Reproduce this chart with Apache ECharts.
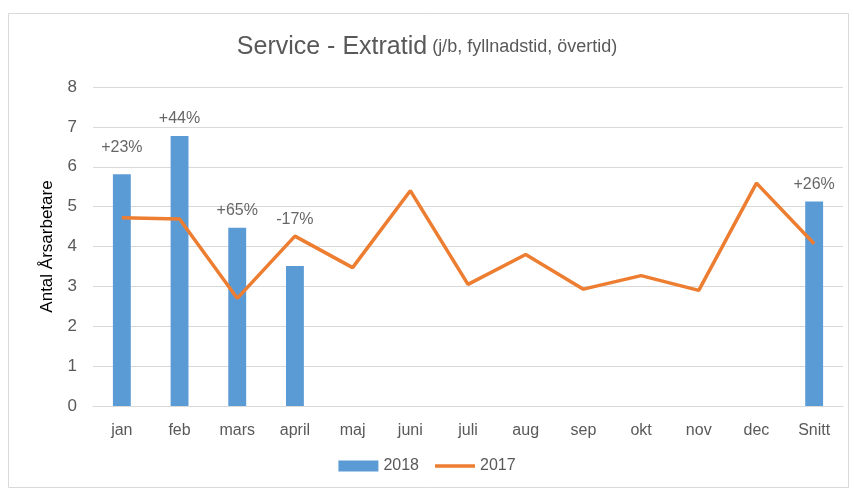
<!DOCTYPE html>
<html>
<head>
<meta charset="utf-8">
<script src="https://cdn.jsdelivr.net/npm/echarts@6/dist/echarts.min.js"></script>
<style>
  html, body { margin: 0; padding: 0; background: #fff; }
  #chart { width: 854px; height: 495px; }
</style>
</head>
<body>
<div id="chart"></div>
<script>
// data
var months = ['jan', 'feb', 'mars', 'april', 'maj', 'juni', 'juli', 'aug', 'sep', 'okt', 'nov', 'dec', 'Snitt'];
var values2018 = [5.81, 6.77, 4.47, 3.51, null, null, null, null, null, null, null, null, 5.13];
var values2017 = [4.72, 4.69, 2.70, 4.26, 3.47, 5.40, 3.05, 3.80, 2.93, 3.27, 2.90, 5.59, 4.07];
var changeLabels = ['+23%', '+44%', '+65%', '-17%', '', '', '', '', '', '', '', '', '+26%'];
var yTicks = [0, 1, 2, 3, 4, 5, 6, 7, 8];

var font = '"Liberation Sans", "Noto Sans", sans-serif';
var grey = '#595959';

// label anchor sits on whichever mark is higher
var labelData = months.map(function (m, i) {
  if (!changeLabels[i]) return [i, null];
  var top = Math.max(values2018[i] || 0, values2017[i] || 0);
  var item = { value: [i, top] };
  if (i === 0) item.label = { offset: [0, -10] };
  return item;
});

var chart = echarts.init(document.getElementById('chart'));
chart.setOption({
  animation: false,
  textStyle: { fontFamily: font },
  graphic: [
    {
      type: 'rect',
      shape: { x: 8.5, y: 13.5, width: 840, height: 474 },
      style: { fill: 'none', stroke: '#d9d9d9', lineWidth: 1 },
      silent: true
    }
  ],
  title: {
    text: '{a|Service - Extratid} {b|(j/b, fyllnadstid, övertid)}',
    left: 'center',
    top: 30,
    textStyle: {
      rich: {
        a: { fontSize: 25, color: grey, fontFamily: font, fontWeight: 'normal' },
        b: { fontSize: 18, color: grey, fontFamily: font, fontWeight: 'normal' }
      }
    }
  },
  legend: {
    bottom: 16,
    left: 'center',
    itemWidth: 40,
    itemHeight: 11,
    itemGap: 16,
    textStyle: { fontSize: 16, color: grey },
    data: [
      { name: '2018', icon: 'rect' },
      { name: '2017', icon: 'path://M0,0 L40,0 L40,3.5 L0,3.5 Z' }
    ]
  },
  grid: {
    left: 93,
    right: 11,
    top: 87,
    bottom: 89
  },
  xAxis: {
    type: 'category',
    data: months,
    axisLine: { lineStyle: { color: '#d9d9d9' } },
    axisTick: { show: false },
    axisLabel: { fontSize: 16, color: grey, margin: 17 }
  },
  yAxis: {
    type: 'value',
    min: yTicks[0],
    max: yTicks[yTicks.length - 1],
    interval: 1,
    name: 'Antal Årsarbetare',
    nameLocation: 'middle',
    nameGap: 37,
    nameTextStyle: { fontSize: 17, color: '#000' },
    axisLine: { show: false },
    axisTick: { show: false },
    axisLabel: { fontSize: 17, color: grey, margin: 16 },
    splitLine: { lineStyle: { color: '#d9d9d9' } }
  },
  series: [
    {
      name: '2018',
      type: 'bar',
      data: values2018,
      barWidth: '31%',
      itemStyle: { color: '#5B9BD5' }
    },
    {
      name: '2017',
      type: 'line',
      data: values2017,
      symbol: 'none',
      lineStyle: { color: '#ED7D31', width: 3.5 },
      itemStyle: { color: '#ED7D31' }
    },
    {
      name: 'labels',
      type: 'scatter',
      data: labelData,
      symbolSize: 2,
      itemStyle: { color: 'rgba(0,0,0,0)' },
      silent: true,
      z: 5,
      label: {
        show: true,
        position: 'top',
        distance: 8,
        fontSize: 16,
        color: '#404040',
        formatter: function (p) { return changeLabels[p.dataIndex]; }
      }
    }
  ]
});
</script>
</body>
</html>
